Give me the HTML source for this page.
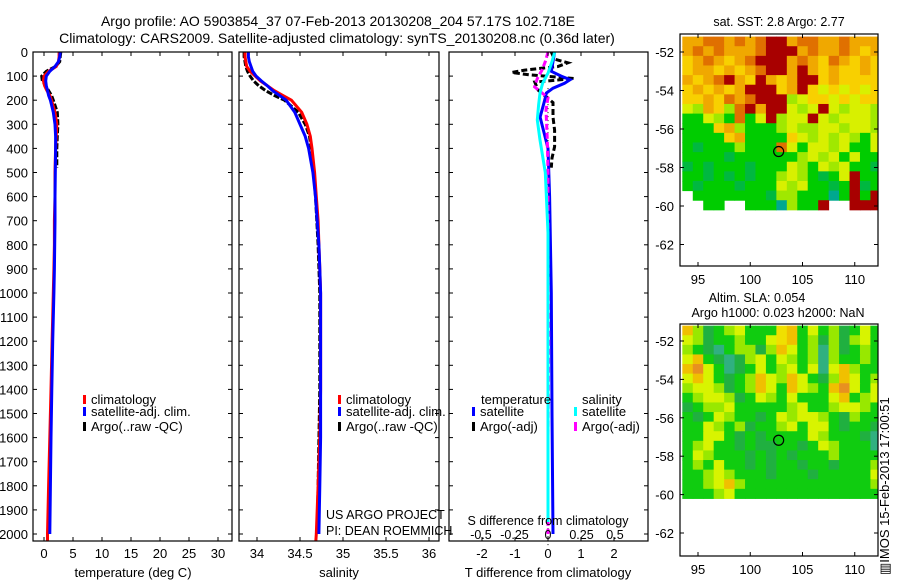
<!DOCTYPE html>
<html><head><meta charset="utf-8"><style>
html,body{margin:0;padding:0;background:#fff;}
svg{display:block;font-family:"Liberation Sans",sans-serif;}
text{fill:#000;}
</style></head><body>
<svg id="fig" width="900" height="580" viewBox="0 0 900 580">
<defs>
<clipPath id="c1"><rect x="33" y="52" width="199" height="489"/></clipPath>
<clipPath id="c2"><rect x="239" y="52" width="200" height="489"/></clipPath>
<clipPath id="c3"><rect x="449" y="52" width="199" height="489"/></clipPath>
<clipPath id="m1"><rect x="680" y="34" width="198" height="232"/></clipPath>
<clipPath id="m2"><rect x="680" y="324" width="198" height="232"/></clipPath>
</defs>
<text x="338" y="26" font-size="14" text-anchor="middle">Argo profile: AO 5903854_37 07-Feb-2013 20130208_204 57.17S 102.718E</text>
<text x="337" y="43" font-size="14" text-anchor="middle">Climatology: CARS2009. Satellite-adjusted climatology: synTS_20130208.nc (0.36d later)</text>
<g id="g1"></g>
<g id="g2"></g>
<g id="g3"></g>
<g id="gm1"></g>
<g id="gm2"></g>
<text x="0" y="0" font-size="13" transform="translate(889,575) rotate(-90)">▥IMOS 15-Feb-2013 17:00:51</text>
</svg>
<script>
// ---- profile data ----
const depthClim = [0,20,40,60,80,100,120,140,160,180,200,250,300,350,400,500,600,700,800,900,1000,1200,1400,1600,1800,2000,2050];
const tempClim  = [2.6,2.6,2.5,2.1,0.8,0.0,-0.1,0.1,0.5,1.0,1.3,1.9,2.2,2.1,2.0,1.9,1.9,1.8,1.8,1.7,1.6,1.4,1.2,1.0,0.8,0.6,0.6];
const salClim   = [33.86,33.86,33.87,33.88,33.92,33.98,34.04,34.12,34.2,34.3,34.4,34.52,34.58,34.62,34.64,34.67,34.69,34.71,34.72,34.73,34.74,34.74,34.74,34.73,34.71,34.69,34.68];
const depthSat  = [0,20,40,60,80,100,120,140,160,180,200,250,300,350,400,500,600,700,800,900,1000,1200,1400,1600,1800,2000];
const tempSat   = [2.8,2.7,2.5,1.9,1.0,0.4,0.3,0.4,0.6,0.8,1.1,1.6,1.9,2.0,2.0,1.95,1.9,1.9,1.85,1.8,1.7,1.5,1.35,1.2,1.1,1.0];
const salSat    = [33.9,33.9,33.91,33.93,33.95,33.99,34.05,34.12,34.18,34.26,34.34,34.44,34.5,34.56,34.6,34.65,34.68,34.7,34.72,34.73,34.74,34.74,34.74,34.74,34.73,34.72];
const depthArgo = [0,20,40,60,80,100,120,140,160,180,200,250,300,350,400,450,480];
const tempArgo  = [2.9,2.8,2.7,2.0,0.4,-0.4,-0.3,0.3,0.8,1.3,1.6,2.3,2.4,2.3,2.2,2.2,2.2];
const depthArgoS= [0,20,40,60,80,100,120,140,160,180,200,250,300,350,400,500,600,800,1000,1400,1800,2000];
const salArgo   = [33.85,33.85,33.86,33.87,33.89,33.92,33.96,34.02,34.1,34.2,34.32,34.48,34.56,34.61,34.63,34.66,34.68,34.71,34.73,34.73,34.71,34.7];
// differences
const depthDT   = [0,40,80,100,115,130,150,170,200,270,400,600,1000,1500,2000];
const tDiffSat  = [0.2,0.15,0.1,0.4,0.67,0.5,0.15,-0.05,-0.1,-0.24,0.0,0.05,0.1,0.12,0.15];
const depthDTA  = [0,30,45,60,75,85,95,110,125,158,210,270,324,393,440,480];
const tDiffArgo = [0.1,0.2,0.6,0.3,-0.7,-1.1,-0.55,0.8,-0.4,-0.3,0.15,0.15,0.2,0.2,0.12,0.1];
const depthDS   = [0,40,88,130,170,220,282,365,500,750,1000,1500,1950];
const sDiffSat  = [0.05,0.03,0.0,-0.04,-0.06,-0.07,-0.08,-0.06,-0.02,0.0,0.0,0.0,0.0];
const depthDSA  = [0,40,75,110,145,190,240,365,500,800,1200,1600,2000];
const sDiffArgo = [0.0,-0.02,-0.045,-0.08,-0.1,0.0,-0.015,-0.005,0.0,0.0,0.005,0.0,0.0];
const depthTicks = [0,100,200,300,400,500,600,700,800,900,1000,1100,1200,1300,1400,1500,1600,1700,1800,1900,2000];
const tempTicks = [0,5,10,15,20,25,30];
const salTicks = [34,34.5,35,35.5,36];
const salTickLabels = ["34","34.5","35","35.5","36"];
const tdTicks = [-2,-1,0,1,2];
const sdTicks = [-0.5,-0.25,0,0.25,0.5];
const sdTickLabels = ["-0.5","-0.25","0","0.25","0.5"];
// ---- map data ----
const lonTicks = [95,100,105,110];
const latTicks = [-52,-54,-56,-58,-60,-62];
const sstRows = [
"ooOOoOoORRoOOooOooo",
"oOoOoooORRRoOooOoYo",
"YoOoYoORRRoOoYOoYoY",
"YooYoYoORRoRoYoYYoY",
"oYoORoYRoYoRRYoYYYY",
"YoYoYoRRRYoRYyYyYyY",
"YYoYOoORRRLyYYyYyYY",
"yLoYLORoRRyLyRyLyyL",
"GGyLGOGyRLyyRyLyyyL",
"GGGYoLGGGLyLLyyLyyL",
"GGGGYoGGGGYyLyLyLGy",
"GgGGGLGGGOyGyyLyGGy",
"GGGGgGGGGGGLyLyGyGG",
"gGgGGGgGGGyLGyLyGGg",
"GGgGgGgGGLyLGgGyRGG",
"GgGGGgGGGyLyGGgGRgG",
"WGGGGGGGgLLGGGTGRGR",
"WWGGWWGGGTLGGRWWRRR"];
const slaRows = [
"oLgGLyGGGYoGyGLgGyG",
"yLgGGLGGyYoGLgLgLyG",
"LGgtGLLgLoyGLtLgGLG",
"yoGgtgLyGyLGLtLGGLG",
"oOyGtgGyGLyGytyoLGG",
"yoyGgGLoyLoyGgLoyGL",
"LyyLgGLoyGoyLGoOyGy",
"GLyyLgGyLGyGGGyoGLy",
"gGLLyGGGGGLyGGLyyLG",
"GgGyLGGgGyLyyLGgLGG",
"GGyLGLgGGLyGyyGgGGg",
"GGyyGgGgGGGGyLGGGgt",
"GLyGGgGggGGgGyLGGGt",
"GyLGGGgGgGgGGGLGGGG",
"GLGyGGgGgGGgGGgGGGL",
"GGLyLGGGgGGGgGGGGGy",
"GGLyoLGGGGGGGGGGGGL",
"GGGLyGGGGGGGGGGGGGG"];
const argoLon = 102.718, argoLat = -57.17;

const NS="http://www.w3.org/2000/svg";
function mk(tag, attrs, parent){const e=document.createElementNS(NS,tag);for(const k in attrs)e.setAttribute(k,attrs[k]);parent.appendChild(e);return e;}
const yD = d => 52 + d*0.241;
const xT = t => 44 + t*5.8;
const xS = s => 257 + (s-34)*86;
const xTd = v => 548 + v*33;
const xSd = v => 548 + v*134;
function pts(xs, ds, fx){return xs.map((v,i)=>fx(v).toFixed(1)+","+yD(ds[i]).toFixed(1)).join(" ");}
function line(parent, xs, ds, fx, color, w, dash, clip, name){
  const p = mk("polyline",{points:pts(xs,ds,fx),fill:"none",stroke:color,"stroke-width":w,"clip-path":"url(#"+clip+")"},parent);
  if(dash) p.setAttribute("stroke-dasharray",dash);
  
  
}
function box(parent, x0, x1, y0, y1, name){
  const r = mk("rect",{x:x0,y:y0,width:x1-x0,height:y1-y0,fill:"none",stroke:"#000","stroke-width":1.2},parent);
  
  
}
function text(parent, x, y, s, size, anchor, name){
  const t = mk("text",{x:x,y:y,"font-size":size,"text-anchor":anchor||"start"},parent);
  t.textContent = s;
  
  
  return t;
}
function yTicks(parent, x0, x1){
  depthTicks.forEach(d=>{
    const y = yD(d);
    mk("line",{x1:x0,y1:y,x2:x0+4,y2:y,stroke:"#000"},parent);
    mk("line",{x1:x1,y1:y,x2:x1-4,y2:y,stroke:"#000"},parent);
  });
}
function xTicks(parent, vals, fx, labels, withLabels, name){
  vals.forEach((v,i)=>{
    const x = fx(v);
    mk("line",{x1:x,y1:541,x2:x,y2:537,stroke:"#000"},parent);
    mk("line",{x1:x,y1:52,x2:x,y2:56,stroke:"#000"},parent);
    if(withLabels) text(parent, x, 558, labels?labels[i]:String(v), 13, "middle", name);
  });
}
function legend(parent, x, y, color, label){
  const r = mk("rect",{x:x,y:y-9,width:3,height:9,fill:color},parent);
  
  
  text(parent, x+8, y, label, 13, "start", "legend-entry");
}

// Panel 1: temperature
const g1 = document.getElementById("g1");
line(g1, tempArgo, depthArgo, xT, "#000", 3, "6,2", "c1", "temp-argo-line");
line(g1, tempClim, depthClim, xT, "#f00", 3, null, "c1", "temp-climatology-line");
line(g1, tempSat, depthSat, xT, "#00f", 3, null, "c1", "temp-satellite-line");
box(g1, 33, 232, 52, 541, "temperature-axes");
yTicks(g1, 33, 232);
depthTicks.forEach(d=>text(g1, 28, yD(d)+5, String(d), 13, "end", "depth-tick-label"));
xTicks(g1, tempTicks, xT, null, true, "temp-tick-label");
text(g1, 133, 577, "temperature (deg C)", 13, "middle", "temperature-axis-title");
legend(g1, 83, 404, "#f00", "climatology");
legend(g1, 83, 416, "#00f", "satellite-adj. clim.");
legend(g1, 83, 431, "#000", "Argo(..raw -QC)");

// Panel 2: salinity
const g2 = document.getElementById("g2");
line(g2, salArgo, depthArgoS, xS, "#000", 3, "6,2", "c2", "sal-argo-line");
line(g2, salClim, depthClim, xS, "#f00", 3, null, "c2", "sal-climatology-line");
line(g2, salSat, depthSat, xS, "#00f", 3, null, "c2", "sal-satellite-line");
box(g2, 239, 439, 52, 541, "salinity-axes");
yTicks(g2, 239, 439);
xTicks(g2, salTicks, xS, salTickLabels, true, "sal-tick-label");
text(g2, 339, 577, "salinity", 13, "middle", "salinity-axis-title");
legend(g2, 338, 404, "#f00", "climatology");
legend(g2, 338, 416, "#00f", "satellite-adj. clim.");
legend(g2, 338, 431, "#000", "Argo(..raw -QC)");
text(g2, 326, 519, "US ARGO PROJECT", 12.5, "start", "project-label");
text(g2, 326, 535, "PI: DEAN ROEMMICH", 12.5, "start", "pi-label");

// Panel 3: differences
const g3 = document.getElementById("g3");
const zl = mk("line",{x1:548,y1:yD(150),x2:548,y2:yD(2050),stroke:"#000","stroke-width":1,"stroke-dasharray":"1,3"},g3);


line(g3, tDiffArgo, depthDTA, xTd, "#000", 3, "6,3", "c3", "tdiff-argo-line");
line(g3, tDiffSat, depthDT, xTd, "#00f", 3, null, "c3", "tdiff-satellite-line");
line(g3, sDiffArgo, depthDSA, xSd, "#f0f", 3, "6,3", "c3", "sdiff-argo-line");
line(g3, sDiffSat, depthDS, xSd, "#0ff", 3, null, "c3", "sdiff-satellite-line");
box(g3, 449, 648, 52, 541, "difference-axes");
yTicks(g3, 449, 648);
xTicks(g3, tdTicks, xTd, null, true, "tdiff-tick-label");
sdTicks.forEach((v,i)=>text(g3, xSd(v), 539, sdTickLabels[i], 12.5, "middle", "sdiff-tick-label"));
text(g3, 548, 525, "S difference from climatology", 12.5, "middle", "sdiff-axis-title");
text(g3, 548, 577, "T difference from climatology", 13, "middle", "tdiff-axis-title");
text(g3, 481, 404, "temperature", 13, "start", "legend-title-temperature");
text(g3, 582, 404, "salinity", 13, "start", "legend-title-salinity");
legend(g3, 472, 416, "#00f", "satellite");
legend(g3, 472, 431, "#000", "Argo(-adj)");
legend(g3, 574, 416, "#0ff", "satellite");
legend(g3, 574, 431, "#f0f", "Argo(-adj)");

// Maps
const sstColors = {R:"#a80000",O:"#e07000",o:"#f0a800",Y:"#f8d000",y:"#d8f000",L:"#a0e800",G:"#00cc00",g:"#00b840",T:"#00a890",W:"#ffffff"};
const slaColors = {O:"#e89020",o:"#f0c000",Y:"#f0e000",y:"#d8f400",L:"#98e800",G:"#10cc10",g:"#20b040",t:"#30b080"};
const lonX = l => 698 + (l-95)*10.45;
function drawMap(gid, rows, colors, clip, latTop, yOf, yBox0, yBox1, name){
  const g = document.getElementById(gid);
  rows.forEach((row, r)=>{
    for(let c=0;c<row.length;c++){
      const ch=row[c]; if(ch==="W") continue;
      const x0=lonX(93.5+c), x1=lonX(94.5+c);
      const y0=yOf(latTop-r*0.5), y1=yOf(latTop-(r+1)*0.5);
      const cell = mk("rect",{x:x0,y:y0,width:x1-x0+0.5,height:y1-y0+0.5,fill:colors[ch],"clip-path":"url(#"+clip+")"},g);
      
      
    }
  });
  const circ = mk("circle",{cx:lonX(argoLon),cy:yOf(argoLat),r:5,fill:"none",stroke:"#000","stroke-width":1.2},g);
  
  
  box(g, 680, 878, yBox0, yBox1, name+"-axes");
  lonTicks.forEach(l=>{
    const x=lonX(l);
    mk("line",{x1:x,y1:yBox1,x2:x,y2:yBox1-4,stroke:"#000"},g);
    mk("line",{x1:x,y1:yBox0,x2:x,y2:yBox0+4,stroke:"#000"},g);
    text(g, x, yBox1+18, String(l), 13, "middle", "lon-tick-label");
  });
  latTicks.forEach(l=>{
    const y=yOf(l);
    mk("line",{x1:680,y1:y,x2:684,y2:y,stroke:"#000"},g);
    mk("line",{x1:878,y1:y,x2:874,y2:y,stroke:"#000"},g);
    text(g, 674, y+5, String(l), 13, "end", "lat-tick-label");
  });
}
drawMap("gm1", sstRows, sstColors, "m1", -51.2, l=>52+(-52-l)*19.25, 34, 266, "sst-map");
drawMap("gm2", slaRows, slaColors, "m2", -51.2, l=>341+(-52-l)*19.2, 324, 556, "sla-map");
const gm1=document.getElementById("gm1"), gm2=document.getElementById("gm2");
text(gm1, 779, 26, "sat. SST: 2.8 Argo: 2.77", 12.5, "middle", "sst-map-title");
text(gm2, 757, 302, "Altim. SLA: 0.054", 12.5, "middle", "sla-map-title");
text(gm2, 778, 317, "Argo h1000: 0.023 h2000: NaN", 12.5, "middle", "sla-map-subtitle");
</script>
</body></html>
